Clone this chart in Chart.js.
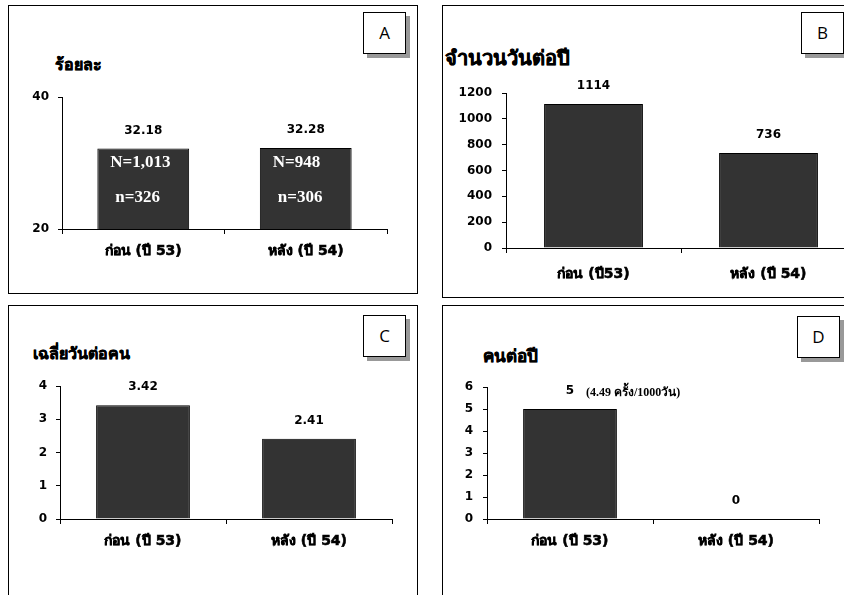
<!doctype html>
<html>
<head>
  <meta charset="utf-8">
  <title>Charts</title>
  <script src="https://cdn.jsdelivr.net/npm/chart.js@4.4.0/dist/chart.umd.min.js"></script>
  <style>
    html, body { margin: 0; padding: 0; background: #fff; }
    body { width: 844px; height: 595px; overflow: hidden; position: relative;
      font-family: "DejaVu Sans", "Noto Sans", sans-serif; }
    .panel { position: absolute; border: 1.5px solid #000; box-sizing: border-box; }
    .tag { position: absolute; width: 43px; height: 42px; border: 1px solid #000; background: #fff;
      box-shadow: 4px 4px 0 #999; box-sizing: border-box; font: 17px "Open Sans", sans-serif;
      text-align: center; line-height: 40px; color: #000; }
    .ttl { position: absolute; font-weight: bold; color: #000; white-space: nowrap;
      -webkit-text-stroke: 0.5px #000; }
    canvas { position: absolute; }
  </style>
</head>
<body>
  <div class="panel" style="left:8px;top:5px;width:410px;height:289px"></div>
  <div class="panel" style="left:442px;top:5px;width:430px;height:293px"></div>
  <div class="panel" style="left:8px;top:305px;width:410px;height:320px"></div>
  <div class="panel" style="left:442px;top:305px;width:430px;height:320px"></div>

  <div class="tag" style="left:363px;top:12px">A</div>
  <div class="tag" style="left:801px;top:12px">B</div>
  <div class="tag" style="left:363px;top:315px">C</div>
  <div class="tag" style="left:797px;top:316px">D</div>

  <div class="ttl" style="left:55px;top:52px;font-size:16px">ร้อยละ</div>
  <div class="ttl" style="left:445px;top:42px;font-size:20px">จำนวนวันต่อปี</div>
  <div class="ttl" style="left:33px;top:341px;font-size:16px">เฉลี่ยวันต่อคน</div>
  <div class="ttl" style="left:483px;top:342px;font-size:17px">คนต่อปี</div>

  <canvas id="chartA" width="400" height="225" style="left:10px;top:60px"></canvas>
  <canvas id="chartB" width="420" height="232" style="left:445px;top:60px"></canvas>
  <canvas id="chartC" width="400" height="225" style="left:10px;top:360px"></canvas>
  <canvas id="chartD" width="400" height="225" style="left:445px;top:360px"></canvas>

  <script>
    // data
    var catsA = ['ก่อน (ปี 53)', 'หลัง (ปี 54)'];
    var valuesA = [32.18, 32.28];
    var bigNA = ['N=1,013', 'N=948'];
    var smallNA = ['n=326', 'n=306'];

    var catsB = ['ก่อน (ปี53)', 'หลัง (ปี 54)'];
    var valuesB = [1114, 736];

    var catsC = ['ก่อน (ปี 53)', 'หลัง (ปี 54)'];
    var valuesC = [3.42, 2.41];

    var catsD = ['ก่อน (ปี 53)', 'หลัง (ปี 54)'];
    var valuesD = [5, 0];
    var noteD = '(4.49 ครั้ง/1000วัน)';

    var tickFont = { family: 'DejaVu Sans', size: 12, weight: 'bold' };
    var catFont = { family: 'DejaVu Sans', size: 14, weight: 'bold' };

    // value labels above bars, plus extra texts
    var valueLabels = {
      id: 'valueLabels',
      afterDatasetsDraw: function (chart, args, opts) {
        var ctx = chart.ctx;
        var meta = chart.getDatasetMeta(0);
        var data = chart.data.datasets[0].data;
        ctx.save();
        ctx.fillStyle = '#000';
        ctx.font = 'bold 12px "DejaVu Sans"';
        ctx.textAlign = 'center';
        ctx.textBaseline = 'middle';
        meta.data.forEach(function (bar, i) {
          ctx.fillText(String(data[i]), bar.x, bar.y - 18);
        });
        if (opts.inner) {
          ctx.fillStyle = '#fff';
          ctx.font = 'bold 17px "Liberation Serif"';
          ctx.textAlign = 'left';
          meta.data.forEach(function (bar, i) {
            ctx.fillText(opts.inner[0][i], bar.x - 33, chart.chartArea.top + 66);
            ctx.fillText(opts.inner[1][i], bar.x - 28, chart.chartArea.top + 101);
          });
        }
        if (opts.note) {
          var b = meta.data[0];
          ctx.font = 'bold 12px "Liberation Serif"';
          ctx.textAlign = 'left';
          ctx.fillText(opts.note, b.x + 16, b.y - 16);
        }
        ctx.restore();
      }
    };

    function makeChart(id, cats, values, min, max, step, box, extra) {
      return new Chart(document.getElementById(id), {
        type: 'bar',
        data: {
          labels: cats,
          datasets: [{
            data: values,
            backgroundColor: '#333333',
            borderColor: '#000',
            borderWidth: 1,
            categoryPercentage: 1,
            barPercentage: 0.565
          }]
        },
        options: {
          responsive: false,
          animation: false,
          layout: { padding: { top: box.top, right: box.right, left: 0, bottom: 0 } },
          plugins: {
            legend: { display: false },
            tooltip: { enabled: false },
            valueLabels: extra || {}
          },
          scales: {
            x: {
              grid: { display: true, offset: true, drawOnChartArea: false, tickLength: 5, color: '#000' },
              border: { display: true, color: '#000', width: 1 },
              ticks: { color: '#000', font: catFont, padding: box.xpad, maxRotation: 0,
                textStrokeColor: '#000', textStrokeWidth: 0.6 },
              afterFit: function (s) { s.height = box.xh; }
            },
            y: {
              min: min, max: max,
              grid: { display: true, drawOnChartArea: false, tickLength: 4, color: '#000' },
              border: { display: true, color: '#000', width: 1 },
              ticks: { color: '#000', font: tickFont, stepSize: step, padding: box.ypad,
                callback: function (v) { return String(v); } },
              afterFit: function (s) { s.width = box.yw; }
            }
          }
        },
        plugins: [valueLabels]
      });
    }

    makeChart('chartA', catsA, valuesA, 20, 40, 20,
      { top: 37, right: 23, xh: 56, yw: 52, xpad: 9, ypad: 9 },
      { inner: [bigNA, smallNA] });
    makeChart('chartB', catsB, valuesB, 0, 1200, 200,
      { top: 33, right: 9, xh: 44, yw: 61, xpad: 13, ypad: 10 });
    makeChart('chartC', catsC, valuesC, 0, 4, 1,
      { top: 26, right: 18, xh: 66, yw: 50, xpad: 9, ypad: 9 });
    makeChart('chartD', catsD, valuesD, 0, 6, 1,
      { top: 27, right: 26, xh: 66, yw: 42, xpad: 9, ypad: 10 },
      { note: noteD });
  </script>
</body>
</html>
